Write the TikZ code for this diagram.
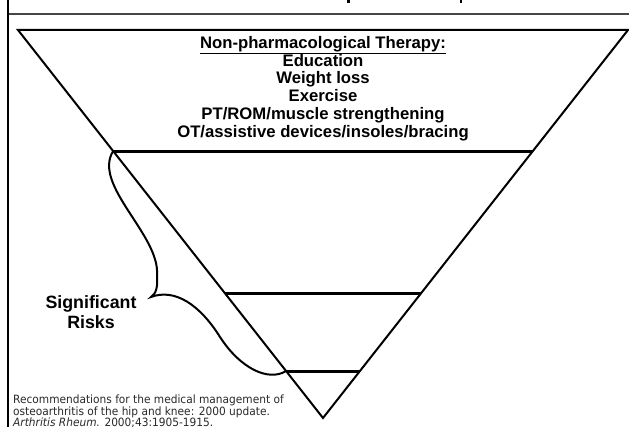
\documentclass[tikz,border=0pt]{standalone}
\usepackage{fontspec}
\setmainfont{Liberation Sans}
\newfontfamily\notefont[FakeStretch=0.93]{DejaVu Sans}
\usetikzlibrary{calc}
\definecolor{FrameGray}{RGB}{70,70,70}
\definecolor{NoteGray}{RGB}{40,40,40}
\tikzset{
	side/.style={draw=black,line width=2pt},
	level/.style={draw=black,line width=3pt},
	brace/.style={draw=black,line width=2pt},
	heading/.style={align=center,inner sep=0pt,font=\bfseries\fontsize{16.7}{17.8}\selectfont},
	risktext/.style={align=center,inner sep=0pt,font=\bfseries\fontsize{17.8}{20}\selectfont},
	note/.style={align=left,inner sep=0pt,text=NoteGray,font=\notefont\fontsize{11.4}{11.2}\selectfont},
}

\begin{document}
\begin{tikzpicture}[x=1pt,y=-1pt]
\useasboundingbox (0,0) rectangle (629,427);
% slide frame
\draw[FrameGray,line width=1.2pt] (8,14) -- (629,14);
\draw[black,line width=2.5pt] (8,0) -- (8,427);
\fill (347,0) rectangle (349.5,3);
\fill (459.5,0) rectangle (462,3);
% pyramid
\coordinate (tl) at (18,30);
\coordinate (tr) at (628,30);
\coordinate (apex) at (323,418);
\draw[side] (tl) -- (tr) -- (apex) -- cycle;
\foreach \n/\t in {1/0.312,2/0.678,3/0.879}{
	\coordinate (l\n) at ($(tl)!\t!(apex)$);
	\coordinate (r\n) at ($(tr)!\t!(apex)$);
	\draw[level] (l\n) -- (r\n);
}
\node[heading] (therapy) at (323,88.5) {\underline{Non-pharmacological Therapy:}\\Education\\Weight loss\\Exercise\\PT/ROM/muscle strengthening\\OT/assistive devices/insoles/bracing};
% brace
\coordinate (tip) at (151,297);
\draw[brace] (l1) .. controls (92,185) and (160,235) .. (157,275)
	.. controls (158,287) and (156,294) .. (tip)
	.. controls (175,288) and (200,305) .. (220,337)
	.. controls (240,368) and (268,382) .. (l3);
\node[risktext] (risks) at (91,312) {Significant\\Risks};
\node[note,anchor=north west] (refnote) at (13,395) {Recommendations for the medical management of\\osteoarthritis of the hip and knee: 2000 update.\\\textit{Arthritis Rheum.} 2000;43:1905-1915.};
\end{tikzpicture}
\end{document}
